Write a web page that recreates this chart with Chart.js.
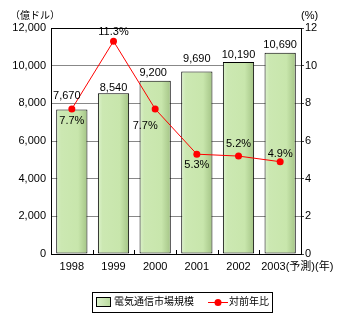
<!DOCTYPE html>
<html lang="ja">
<head>
<meta charset="UTF-8">
<title>電気通信市場規模</title>
<script src="https://cdn.jsdelivr.net/npm/chart.js"></script>
<style>
  html, body { margin: 0; padding: 0; background: #fff; }
  #chart { display: block; }
</style>
</head>
<body>
<canvas id="chart" width="350" height="323"></canvas>
<script>
// 年次カテゴリと系列
const years = ['1998', '1999', '2000', '2001', '2002', '2003'];
const marketSize = [7670, 8540, 9200, 9690, 10190, 10690];   // 億ドル
const growthRate = [7.7, 11.3, 7.7, 5.3, 5.2, 4.9];          // %
const sizeLabel = '電気通信市場規模';
const rateLabel = '対前年比';

const FONT = '"Liberation Sans", "Noto Sans CJK JP", sans-serif';

// label nudges (px): value labels above bars, % labels around points
const barLabelLift = [14, 5, 8, 13, 7, 8];
const barLabelDx = [-5, 0, -2, 0, 0, 0];
const rateLabelDy = [12, -9, 17, 11, -12, -8];
const rateLabelDx = [0, 0, -10, 0, 0, 0];

function barFill(ctx) {
  const chart = ctx.chart;
  const xs = chart.scales.x;
  if (!xs || ctx.dataIndex === undefined) return '#c8e6ac';
  const cx = xs.getPixelForValue(ctx.dataIndex);
  const w = (xs.width / years.length) * 0.75;
  if (!isFinite(cx) || !isFinite(w) || w <= 0) return '#c8e6ac';
  const g = chart.ctx.createLinearGradient(cx - w / 2, 0, cx + w / 2, 0);
  g.addColorStop(0, '#dcf2cc');
  g.addColorStop(0.15, '#cce8b2');
  g.addColorStop(0.7, '#c8e6ac');
  g.addColorStop(1, '#a4c486');
  return g;
}

const overlay = {
  id: 'overlay',
  afterDatasetsDraw(chart) {
    const c = chart.ctx;
    const area = chart.chartArea;
    const xs = chart.scales.x;
    const ys = chart.scales.y;
    const y1 = chart.scales.y1;
    c.save();

    // small inner ticks on the category axis
    c.strokeStyle = '#000';
    c.lineWidth = 1;
    const step = (area.right - area.left) / years.length;
    for (let i = 1; i < years.length; i++) {
      const x = Math.round(area.left + i * step) + 0.5;
      c.beginPath();
      c.moveTo(x, area.bottom - 4);
      c.lineTo(x, area.bottom);
      c.stroke();
    }

    c.fillStyle = '#000';
    c.font = '11px ' + FONT;
    c.textAlign = 'center';
    c.textBaseline = 'middle';

    // market size values
    marketSize.forEach((v, i) => {
      const x = xs.getPixelForValue(i) + barLabelDx[i];
      const y = ys.getPixelForValue(v) - barLabelLift[i];
      c.fillText(v.toLocaleString('en-US'), x, y);
    });

    // growth rates
    growthRate.forEach((v, i) => {
      const x = xs.getPixelForValue(i) + rateLabelDx[i];
      const y = y1.getPixelForValue(v) + rateLabelDy[i];
      c.fillText(v.toFixed(1) + '%', x, y);
    });
    c.restore();
  },
  afterDraw(chart) {
    const c = chart.ctx;
    const xs = chart.scales.x;
    c.save();
    c.fillStyle = '#000';
    c.textBaseline = 'middle';

    // axis units
    c.font = '10px ' + FONT;
    c.textAlign = 'left';
    c.fillText('（億ドル）', 10, 16);
    c.font = '11px ' + FONT;
    c.fillText('(%)', 301, 16);

    // last category label with its suffix
    c.fillText('2003(予測)(年)', xs.getPixelForValue(5) - 19, 267);

    // legend
    const lx = 92, ly = 292, lw = 180, lh = 20;
    c.strokeStyle = '#000';
    c.lineWidth = 1;
    c.strokeRect(lx + 0.5, ly + 0.5, lw, lh);

    const g = c.createLinearGradient(96, 0, 110, 0);
    g.addColorStop(0, '#dcf2cc');
    g.addColorStop(1, '#bcdca0');
    c.fillStyle = g;
    c.fillRect(96.5, 297.5, 14, 9);
    c.strokeRect(96.5, 297.5, 14, 9);

    c.fillStyle = '#000';
    c.font = '10px ' + FONT;
    c.fillText(sizeLabel, 114, 302.5);

    c.strokeStyle = '#ff0000';
    c.beginPath();
    c.moveTo(208, 302.5);
    c.lineTo(228, 302.5);
    c.stroke();
    c.fillStyle = '#ff0000';
    c.beginPath();
    c.arc(218, 302.5, 3.5, 0, Math.PI * 2);
    c.fill();

    c.fillStyle = '#000';
    c.fillText(rateLabel, 229, 302.5);
    c.restore();
  }
};

new Chart(document.getElementById('chart'), {
  data: {
    labels: years,
    datasets: [
      {
        type: 'line',
        label: rateLabel,
        data: growthRate,
        yAxisID: 'y1',
        borderColor: '#ff0000',
        backgroundColor: '#ff0000',
        borderWidth: 1,
        pointRadius: 3.5,
        pointBorderWidth: 0,
        tension: 0,
        order: 0
      },
      {
        type: 'bar',
        label: sizeLabel,
        data: marketSize,
        yAxisID: 'y',
        backgroundColor: barFill,
        borderColor: '#000',
        borderWidth: 1,
        borderSkipped: false,
        barPercentage: 0.75,
        categoryPercentage: 1,
        order: 1
      }
    ]
  },
  options: {
    responsive: false,
    animation: false,
    layout: { padding: { left: 0, right: 0, top: 28, bottom: 0 } },
    plugins: {
      legend: { display: false },
      tooltip: { enabled: false }
    },
    scales: {
      x: {
        afterFit: s => { s.height = 69; },
        grid: { drawOnChartArea: false, drawTicks: false, color: 'rgba(0,0,0,0)' },
        border: { color: '#000', width: 1 },
        ticks: {
          color: '#000',
          font: { family: FONT, size: 11 },
          padding: 6,
          maxRotation: 0,
          autoSkip: false,
          callback: (v, i) => (i === years.length - 1 ? '' : years[i])
        }
      },
      y: {
        position: 'left',
        min: 0,
        max: 12000,
        afterFit: s => { s.width = 51; },
        grid: {
          drawTicks: false,
          color: ctx => (ctx.tick && (ctx.tick.value === 12000 || ctx.tick.value === 0) ? '#000' : '#888')
        },
        border: { color: '#000', width: 1 },
        ticks: {
          stepSize: 2000,
          padding: 5,
          color: '#000',
          font: { family: FONT, size: 11 },
          callback: v => v.toLocaleString('en-US')
        }
      },
      y1: {
        position: 'right',
        min: 0,
        max: 12,
        afterFit: s => { s.width = 49; },
        grid: { drawOnChartArea: false, tickLength: 3, tickColor: '#444' },
        border: { color: '#000', width: 1 },
        ticks: {
          stepSize: 2,
          padding: 1,
          color: '#000',
          font: { family: FONT, size: 11 }
        }
      }
    }
  },
  plugins: [overlay]
});
</script>
</body>
</html>
